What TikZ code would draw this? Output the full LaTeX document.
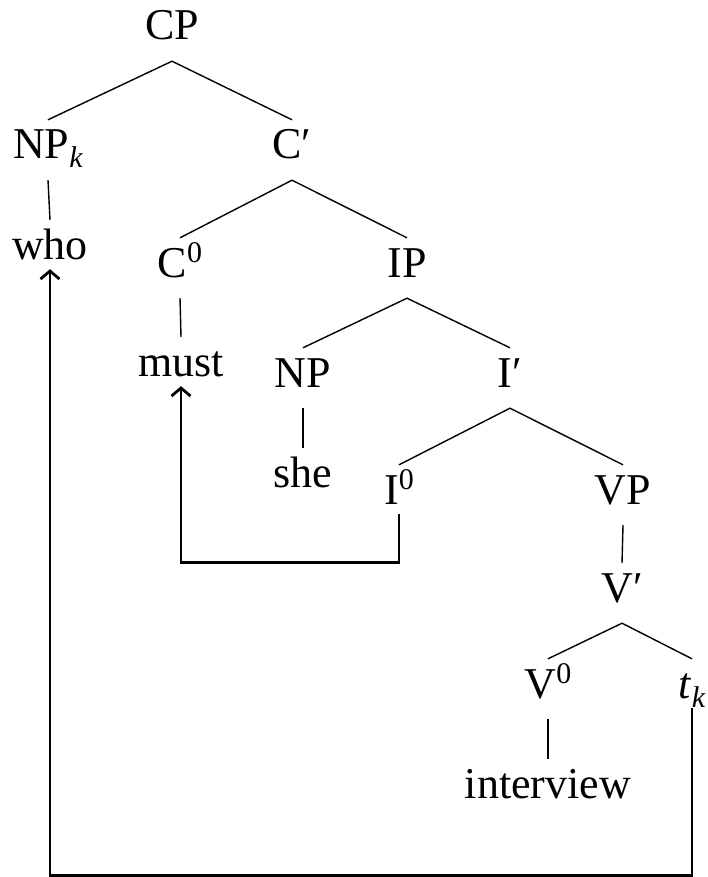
\documentclass[tikz,border=0pt]{standalone}
\usepackage{fontspec}
\setmainfont{Liberation Serif}
\usepackage{tikz}
\usetikzlibrary{arrows.meta}
\pgfkeys{tikz/mytreeenv/.style={x=1pt,y=-1pt}}
\pgfkeys{tikz/mytreenode/.style={anchor=base,inner xsep=0pt,inner ysep=10pt,text height=29pt,text depth=11pt,font=\fontsize{44}{52}\selectfont}}
\pgfkeys{tikz/mytreebranch/.style={line width=1.4pt}}
\pgfkeys{tikz/mytreemove/.style={line width=2.8pt,shorten <=-11pt,shorten >=-11pt,-{Straight Barb[length=8pt,width=19pt]}}}
\newcommand\lbsup[1]{\raisebox{15pt}{\fontsize{30}{30}\selectfont #1}}
\newcommand\lbsub[1]{\raisebox{-9pt}{\fontsize{30}{30}\selectfont\itshape #1}}

\begin{document}
\begin{tikzpicture}[mytreeenv]
    \useasboundingbox (0,0) rectangle (707,877);
    \node[mytreenode] (cp)   at (172,40)  {CP};
    \node[mytreenode] (npk)  at (48,159)  {NP\lbsub{k}};
    \node[mytreenode] (cbar) at (292,159) {C′};
    \node[mytreenode] (who)  at (50,259)  {who};
    \node[mytreenode] (c0)   at (180,277) {C\lbsup{0}};
    \node[mytreenode] (ip)   at (407,277) {IP};
    \node[mytreenode] (must) at (181,376) {must};
    \node[mytreenode] (np)   at (303,387) {NP};
    \node[mytreenode] (ibar) at (510,387) {I′};
    \node[mytreenode] (she)  at (303,487) {she};
    \node[mytreenode] (i0)   at (399,504) {I\lbsup{0}};
    \node[mytreenode] (vp)   at (623,504) {VP};
    \node[mytreenode] (vbar) at (622,602) {V′};
    \node[mytreenode] (v0)   at (548,698) {V\lbsup{0}};
    \node[mytreenode] (tk)   at (692,698) {\textit{t}\lbsub{k}};
    \node[mytreenode] (interview) at (548,798) {interview};
    \draw[mytreebranch] (npk.north) -- (cp.south) -- (cbar.north);
    \draw[mytreebranch] (npk.south) -- (who.north);
    \draw[mytreebranch] (c0.north) -- (cbar.south) -- (ip.north);
    \draw[mytreebranch] (c0.south) -- (must.north);
    \draw[mytreebranch] (np.north) -- (ip.south) -- (ibar.north);
    \draw[mytreebranch] (np.south) -- (she.north);
    \draw[mytreebranch] (i0.north) -- (ibar.south) -- (vp.north);
    \draw[mytreebranch] (vp.south) -- (vbar.north);
    \draw[mytreebranch] (v0.north) -- (vbar.south) -- (tk.north);
    \draw[mytreebranch] (v0.south) -- (interview.north);
    \draw[mytreemove] (i0.south) -- ++(0,37) -| (must.south);
    \draw[mytreemove] (tk.south) -- ++(0,156) -| (who.south);
\end{tikzpicture}
\end{document}
